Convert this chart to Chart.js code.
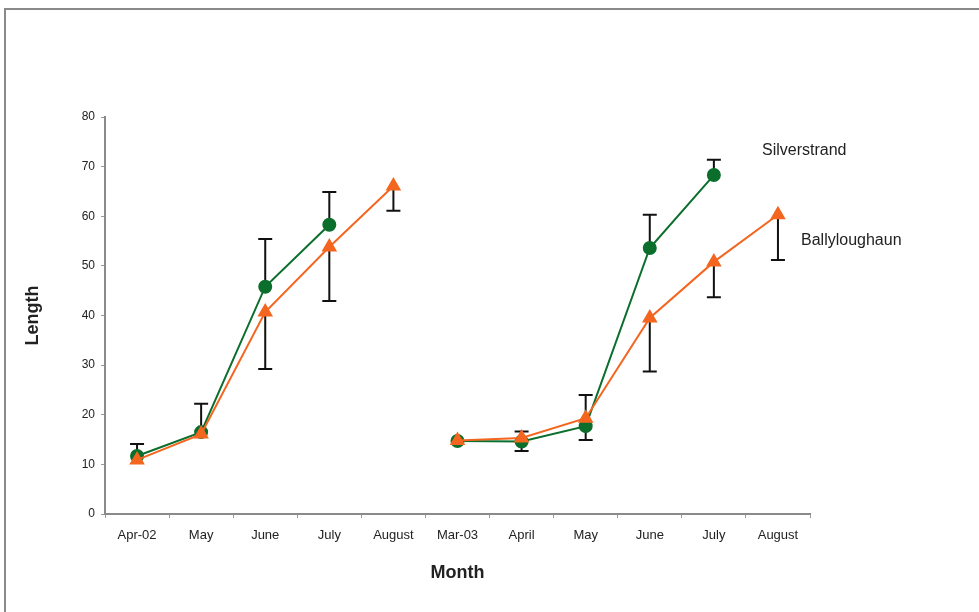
<!DOCTYPE html>
<html>
<head>
<meta charset="utf-8">
<script src="https://cdn.jsdelivr.net/npm/chart.js@4.4.1/dist/chart.umd.min.js"></script>
<style>
  html, body { margin: 0; padding: 0; background: #fff; }
  #wrap { position: relative; width: 979px; height: 612px; }
  #frame { position: absolute; left: 4px; top: 8px; right: -4px; bottom: -4px;
           border-top: 2px solid #8a8a8a; border-left: 2px solid #8a8a8a; }
  canvas { position: absolute; left: 0; top: 0; }
</style>
</head>
<body>
<div id="wrap">
  <div id="frame"></div>
  <canvas id="chart" width="979" height="612"></canvas>
</div>
<script>
// Month categories (2002 run, then 2003 run)
const months = ['Apr-02', 'May', 'June', 'July', 'August', 'Mar-03', 'April', 'May', 'June', 'July', 'August'];

// Mean length, 2002 (Apr-02 .. August)
const silverstrand2002 = [11.7, 16.5, 45.8, 58.3, null];
const ballyloughaun2002 = [10.9, 16.1, 40.7, 53.8, 66.1];
// Mean length, 2003 (Mar-03 .. August)
const silverstrand2003 = [14.7, 14.6, 17.7, 53.6, 68.3, null];
const ballyloughaun2003 = [14.8, 15.3, 19.3, 39.5, 50.8, 60.3];

// Error bar ends (null = not drawn)
const silverHigh2002 = [14.1, 22.2, 55.4, 64.9, null];
const silverHigh2003 = [null, 16.6, 24.0, 60.3, 71.4, null];
const silverLow2003 = [null, 12.7, null, null, null, null];
const ballyLow2002 = [null, null, 29.2, 42.9, 61.1];
const ballyLow2003 = [null, null, 14.9, 28.7, 43.7, 51.2];

const yTicks = [0, 10, 20, 30, 40, 50, 60, 70, 80];

const green = '#0b6e2c';
const orange = '#f4661f';

function pad2002(arr) { return arr.concat([null, null, null, null, null, null]); }
function pad2003(arr) { return [null, null, null, null, null].concat(arr); }

function errors(high, low) {
    return months.map((m, i) => ({ high: high[i] ?? null, low: low[i] ?? null }));
}

const noArr = months.map(() => null);

function series(label, data, color, style, err, order) {
    return {
        label: label,
        data: data,
        order: order,
        borderColor: color,
        backgroundColor: color,
        pointBackgroundColor: color,
        pointBorderColor: color,
        pointStyle: style,
        pointRadius: style === 'triangle' ? 7 : 6,
        pointHoverRadius: 6,
        borderWidth: 2,
        tension: 0,
        spanGaps: false,
        errorBars: err
    };
}

// orange drawn over green, as in the original
const datasets = [
    series('Silverstrand', pad2002(silverstrand2002), green, 'circle',
        errors(pad2002(silverHigh2002), noArr), 2),
    series('Silverstrand', pad2003(silverstrand2003), green, 'circle',
        errors(pad2003(silverHigh2003), pad2003(silverLow2003)), 2),
    series('Ballyloughaun', pad2002(ballyloughaun2002), orange, 'triangle',
        errors(noArr, pad2002(ballyLow2002)), 1),
    series('Ballyloughaun', pad2003(ballyloughaun2003), orange, 'triangle',
        errors(noArr, pad2003(ballyLow2003)), 1)
];

// draws the black error whiskers from the data through the scales
const errorBarPlugin = {
    id: 'errorBars',
    beforeDatasetsDraw(chart) {
        const ctx = chart.ctx;
        const x = chart.scales.x;
        const y = chart.scales.y;
        ctx.save();
        ctx.strokeStyle = '#111';
        ctx.lineWidth = 2;
        chart.data.datasets.forEach(ds => {
            ds.errorBars.forEach((e, i) => {
                const v = ds.data[i];
                if (v === null) return;
                const px = x.getPixelForValue(i);
                const py = y.getPixelForValue(v);
                [e.high, e.low].forEach(end => {
                    if (end === null) return;
                    const pe = y.getPixelForValue(end);
                    ctx.beginPath();
                    ctx.moveTo(px, py);
                    ctx.lineTo(px, pe);
                    ctx.moveTo(px - 7, pe);
                    ctx.lineTo(px + 7, pe);
                    ctx.stroke();
                });
            });
        });
        ctx.restore();
    }
};

// series names written beside the 2003 lines
const seriesLabelPlugin = {
    id: 'seriesLabels',
    afterDraw(chart) {
        const ctx = chart.ctx;
        const y = chart.scales.y;
        ctx.save();
        ctx.fillStyle = '#222';
        ctx.font = '16px "Liberation Sans", Arial, sans-serif';
        ctx.textBaseline = 'middle';
        ctx.fillText('Silverstrand', 762, y.getPixelForValue(73.3));
        ctx.fillText('Ballyloughaun', 801, y.getPixelForValue(55.0));
        ctx.restore();
    }
};

const ctx = document.getElementById('chart').getContext('2d');

new Chart(ctx, {
    type: 'line',
    data: {
        labels: months,
        datasets: datasets
    },
    options: {
        responsive: false,
        animation: false,
        layout: {
            padding: { top: 117, right: 169, left: 0, bottom: 0 }
        },
        plugins: {
            legend: { display: false },
            tooltip: { enabled: false }
        },
        scales: {
            x: {
                offset: true,
                grid: {
                    display: true,
                    offset: true,
                    drawOnChartArea: false,
                    drawTicks: true,
                    tickLength: 4,
                    color: '#999'
                },
                border: { color: '#8a8a8a', width: 2 },
                ticks: {
                    color: '#222',
                    padding: 10,
                    maxRotation: 0,
                    autoSkip: false,
                    font: { family: '"Liberation Sans", Arial, sans-serif', size: 13 }
                },
                title: {
                    display: true,
                    text: 'Month',
                    color: '#222',
                    padding: { top: 4, bottom: 28 },
                    font: { family: '"Liberation Sans", Arial, sans-serif', size: 18, weight: 'bold' }
                },
                afterFit(scale) { scale.height = 98; }
            },
            y: {
                min: 0,
                max: 80,
                afterBuildTicks(scale) { scale.ticks = yTicks.map(v => ({ value: v })); },
                grid: {
                    display: true,
                    drawOnChartArea: false,
                    drawTicks: true,
                    tickLength: 4,
                    color: '#999'
                },
                border: { color: '#8a8a8a', width: 2 },
                ticks: {
                    color: '#222',
                    padding: 6,
                    font: { family: '"Liberation Sans", Arial, sans-serif', size: 12 }
                },
                title: {
                    display: true,
                    text: 'Length',
                    color: '#222',
                    padding: { top: 22, bottom: 0 },
                    font: { family: '"Liberation Sans", Arial, sans-serif', size: 18, weight: 'bold' }
                },
                afterFit(scale) { scale.width = 105; }
            }
        }
    },
    plugins: [errorBarPlugin, seriesLabelPlugin]
});
</script>
</body>
</html>
